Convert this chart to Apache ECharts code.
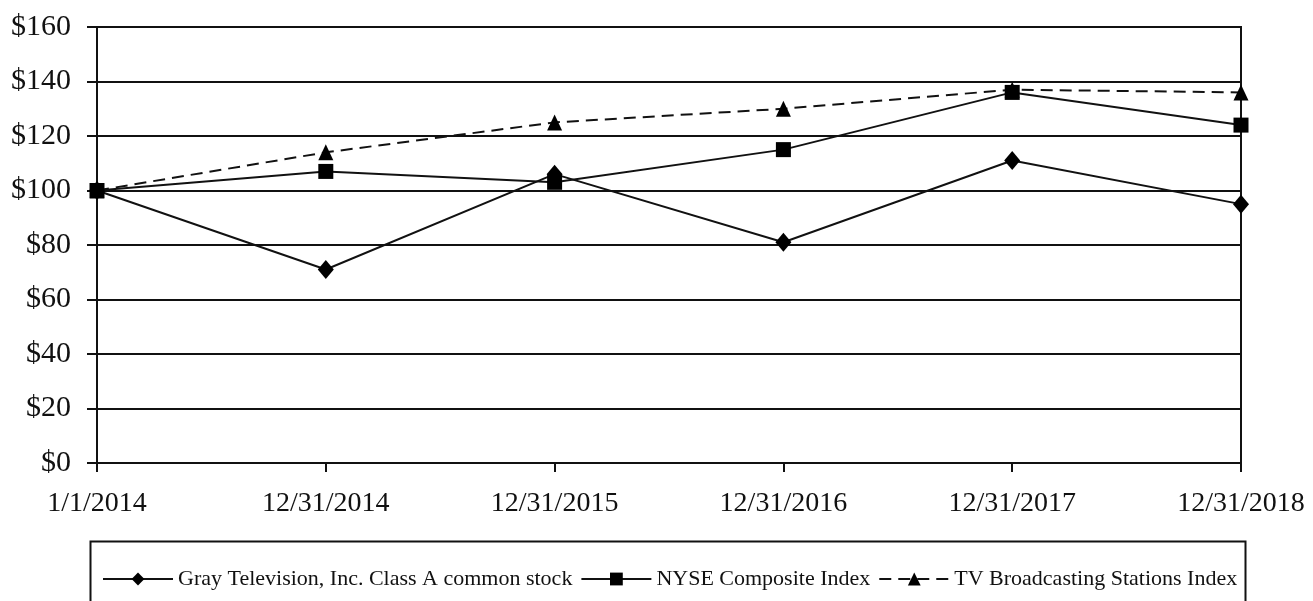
<!DOCTYPE html>
<html>
<head>
<meta charset="utf-8">
<script src="https://cdn.jsdelivr.net/npm/echarts@6/dist/echarts.min.js"></script>
<style>html,body{margin:0;padding:0;background:#fff;}#c{width:1313px;height:601px;}</style>
</head>
<body>
<div id="c"></div>
<script>
const categories = ['1/1/2014', '12/31/2014', '12/31/2015', '12/31/2016', '12/31/2017', '12/31/2018'];
const grayTV = [100, 71, 106, 81, 111, 95];
const nyse = [100, 107, 103, 115, 136, 124];
const tvIndex = [100, 114, 125, 130, 137, 136];
const seriesNames = ['Gray Television, Inc. Class A common stock', 'NYSE Composite Index', 'TV Broadcasting Stations Index'];

const font = 'Liberation Serif, Times New Roman, serif';
const chart = echarts.init(document.getElementById('c'));
chart.setOption({
  animation: false,
  backgroundColor: '#fff',
  grid: { left: 97, right: 72, top: 27, bottom: 138, show: true, borderColor: '#111', borderWidth: 2 },
  graphic: [{
    type: 'rect', left: 88, top: 539, shape: { width: 1155, height: 80 },
    style: { fill: 'none', stroke: '#111', lineWidth: 2 }, silent: true, z: 0
  }],
  legend: {
    top: 563, left: 97, itemWidth: 70, itemHeight: 16, itemGap: 8,
    textStyle: { fontFamily: font, fontSize: 22, color: '#111' },
    data: seriesNames
  },
  xAxis: {
    type: 'category', data: categories, boundaryGap: false,
    axisLine: { lineStyle: { color: '#111', width: 2 } },
    axisTick: { show: true, length: 9, lineStyle: { color: '#111', width: 2 } },
    axisLabel: { fontFamily: font, fontSize: 28, color: '#111', margin: 27 },
    splitLine: { show: false }
  },
  yAxis: {
    type: 'value', min: 0, max: 160, interval: 20,
    axisLine: { show: true, lineStyle: { color: '#111', width: 2 } },
    axisTick: { show: true, length: 10, lineStyle: { color: '#111', width: 2 } },
    axisLabel: { fontFamily: font, fontSize: 30, color: '#111', margin: 26, formatter: v => '$' + v },
    splitLine: { show: true, lineStyle: { color: '#111', width: 2 } }
  },
  series: [
    { name: seriesNames[0], type: 'line', data: grayTV, symbol: 'diamond', symbolSize: [16, 19],
      itemStyle: { color: '#000' }, lineStyle: { color: '#111', width: 2 }, z: 3 },
    { name: seriesNames[1], type: 'line', data: nyse, symbol: 'rect', symbolSize: 15,
      itemStyle: { color: '#000' }, lineStyle: { color: '#111', width: 2 }, z: 4 },
    { name: seriesNames[2], type: 'line', data: tvIndex, symbol: 'triangle', symbolSize: [15, 16],
      itemStyle: { color: '#000' }, lineStyle: { color: '#111', width: 2, type: [12, 7] }, z: 2 }
  ]
});
</script>
</body>
</html>
